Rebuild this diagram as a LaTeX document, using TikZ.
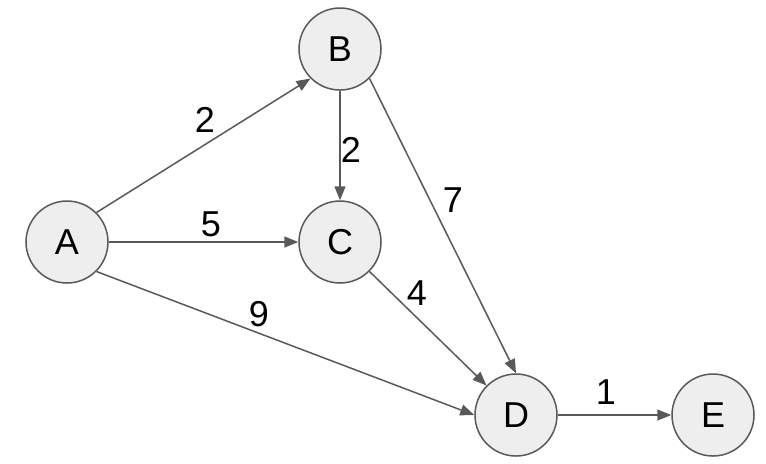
\documentclass[tikz,border=0pt]{standalone}
\usepackage{fontspec}
\setmainfont{Liberation Sans}
\usetikzlibrary{arrows.meta}
\definecolor{linec}{HTML}{595959}
\definecolor{nodefill}{HTML}{EEEEEE}
\begin{document}
\begin{tikzpicture}[x=0.5pt,y=-0.5pt,
  vert/.style={circle, draw=linec, fill=nodefill, line width=0.75pt, minimum size=41pt, inner sep=0pt, font=\fontsize{18}{20}\selectfont},
  edge/.style={draw=linec, line width=0.75pt, -{Triangle[length=7pt,width=5.5pt]}},
  lab/.style={font=\fontsize{18}{20}\selectfont, inner sep=0pt}]
\useasboundingbox (0,0) rectangle (766,463);
\node[vert] (A) at (67,242) {A};
\node[vert] (B) at (340,49) {B};
\node[vert] (C) at (340,242) {C};
\node[vert] (D) at (516,415) {D};
\node[vert] (E) at (713,415) {E};
\draw[edge] (A.45) -- (B.225);
\draw[edge] (A.east) -- (C.west);
\draw[edge] (A.-45) -- (D.west);
\draw[edge] (B.south) -- (C.north);
\draw[edge] (B.-45) -- (D.north);
\draw[edge] (C.-45) -- (D.135);
\draw[edge] (D.east) -- (E.west);
\node[lab] (lab) at (205,120) {2};
\node[lab] (lac) at (211,224) {5};
\node[lab] (lad) at (259,314) {9};
\node[lab] (lbc) at (351,150) {2};
\node[lab] (lbd) at (453,200) {7};
\node[lab] (lcd) at (417,293) {4};
\node[lab] (lde) at (606,392) {1};
\end{tikzpicture}
\end{document}
